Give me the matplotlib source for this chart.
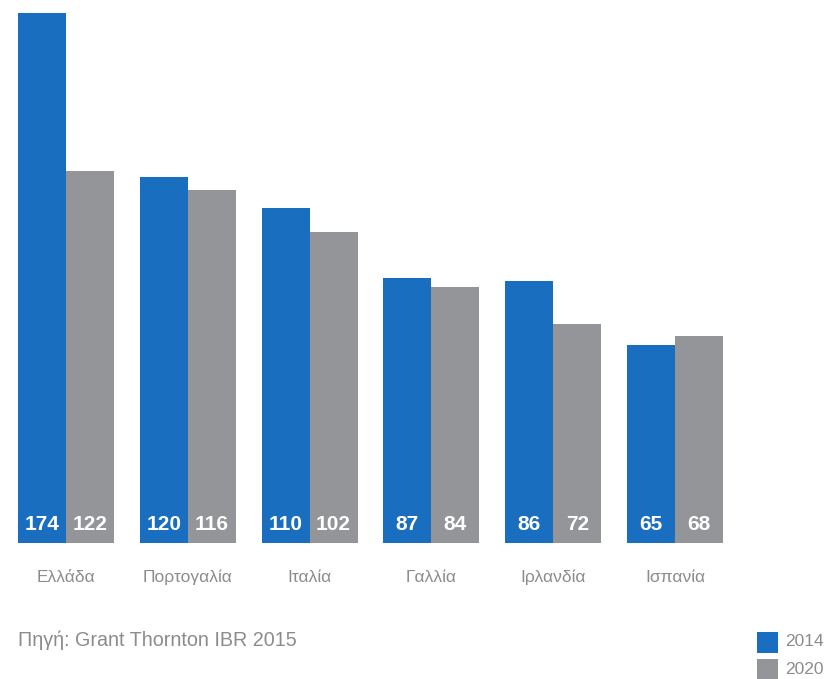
import matplotlib
matplotlib.use("Agg")
import matplotlib.pyplot as plt
import numpy as np
from matplotlib.patches import Rectangle

plt.rcParams['font.family'] = ['Liberation Sans', 'DejaVu Sans']

categories = ["Ελλάδα", "Πορτογαλία", "Ιταλία", "Γαλλία", "Ιρλανδία", "Ισπανία"]
values_2014 = [174, 120, 110, 87, 86, 65]
values_2020 = [122, 116, 102, 84, 72, 68]
series_names = ["2014", "2020"]
source_text = "Πηγή: Grant Thornton IBR 2015"

BLUE = "#1a6ec0"
GRAY = "#939598"
TEXT_GRAY = "#8c8c8c"

W, H = 825, 679
fig = plt.figure(figsize=(W / 100, H / 100), dpi=100)

base_px = 543
ax = fig.add_axes([0, (H - base_px) / H, 1, base_px / H])
spacing_px = 121.8
center0_px = 66
ax.set_xlim((0 - center0_px) / spacing_px, (W - center0_px) / spacing_px)
px_per_unit = (543 - 13) / 174
ax.set_ylim(0, base_px / px_per_unit)
ax.axis("off")

x = np.arange(len(categories))
bw = 48 / spacing_px
ax.bar(x - bw / 2, values_2014, width=bw, color=BLUE, linewidth=0)
ax.bar(x + bw / 2, values_2020, width=bw, color=GRAY, linewidth=0)

label_y = (543 - 524) / px_per_unit
for i in range(len(categories)):
    ax.text(x[i] - bw / 2, label_y, str(values_2014[i]), color="white",
            fontsize=15, fontweight="bold", ha="center", va="center")
    ax.text(x[i] + bw / 2, label_y, str(values_2020[i]), color="white",
            fontsize=15, fontweight="bold", ha="center", va="center")

for i, c in enumerate(categories):
    xf = (center0_px + i * spacing_px) / W
    fig.text(xf, 1 - 577 / H, c, color=TEXT_GRAY, fontsize=12.5,
             ha="center", va="center")

fig.text(18 / W, 1 - 640 / H, source_text, color=TEXT_GRAY, fontsize=14.2,
         ha="left", va="center")

leg_colors = [BLUE, GRAY]
leg_y = [642, 669]
for col, yy, name in zip(leg_colors, leg_y, series_names):
    fig.patches.append(Rectangle((757 / W, 1 - (yy + 10.5) / H), 21 / W, 21 / H,
                                 transform=fig.transFigure, color=col, linewidth=0))
    fig.text(785 / W, 1 - yy / H, name, color=TEXT_GRAY, fontsize=12.5,
             ha="left", va="center")

fig.savefig("out.png", dpi=100)
